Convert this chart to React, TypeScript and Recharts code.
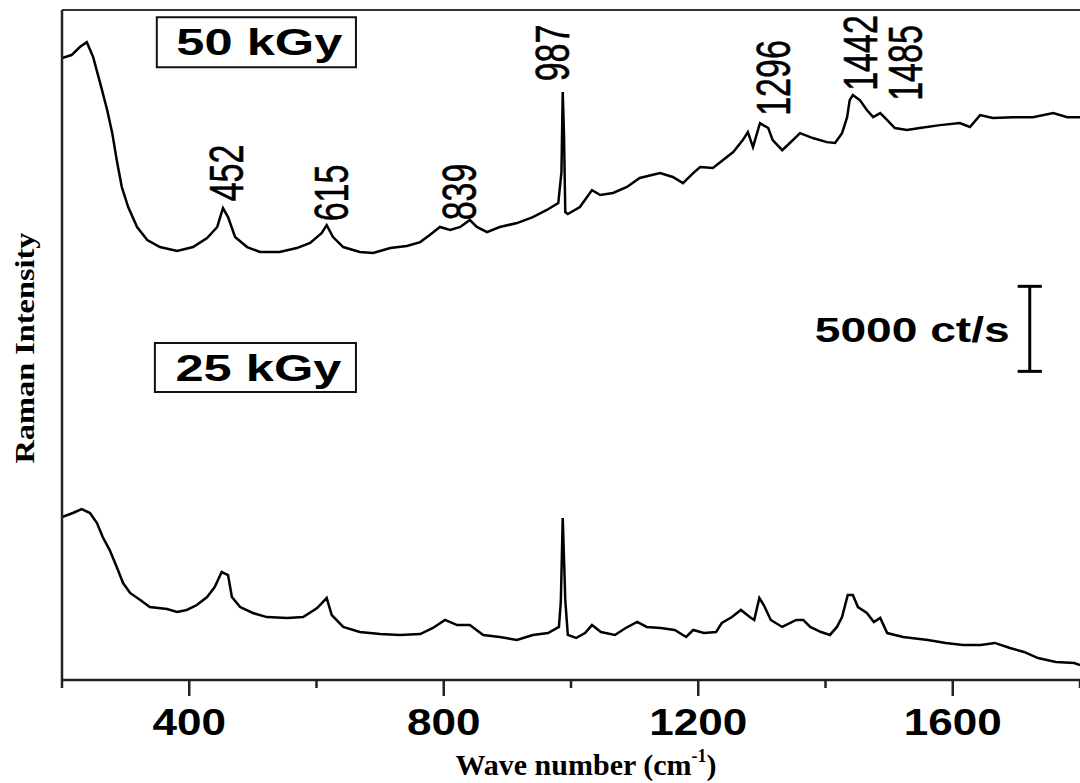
import { LineChart, Line, XAxis, YAxis, ReferenceLine, ReferenceArea } from 'recharts'

// 50 kGy spectrum (wavenumber in cm-1, intensity in ct/s)
const waveTop = [200, 215, 228, 239, 249, 260, 271, 279, 286, 294, 304, 318, 334, 354, 381, 406, 428, 444, 453, 461, 472, 491, 511, 542, 569, 590, 608, 616, 626, 642, 668, 689, 716, 742, 763, 778, 794, 810, 826, 841, 852, 868, 888, 915, 940, 962, 980, 985, 987, 989, 991, 995, 1014, 1033, 1046, 1066, 1088, 1108, 1140, 1160, 1176, 1192, 1203, 1223, 1239, 1255, 1270, 1278, 1286, 1297, 1302, 1310, 1317, 1332, 1344, 1360, 1380, 1402, 1415, 1426, 1434, 1438, 1443, 1454, 1465, 1475, 1486, 1497, 1509, 1528, 1548, 1580, 1611, 1627, 1643, 1663, 1695, 1726, 1758, 1780, 1800]
const intensityTop = [36570, 36750, 37220, 37510, 36630, 35100, 33520, 32160, 30580, 28990, 27810, 26640, 25870, 25460, 25230, 25460, 25990, 26640, 27750, 27220, 26050, 25460, 25170, 25170, 25400, 25700, 26280, 26750, 26050, 25460, 25170, 25110, 25400, 25520, 25750, 26170, 26640, 26460, 26640, 27050, 26640, 26340, 26640, 26870, 27220, 27640, 28050, 29870, 34570, 32050, 27520, 27400, 27810, 28810, 28520, 28640, 28990, 29520, 29810, 29580, 29220, 29810, 30160, 30110, 30580, 31050, 31750, 32220, 31340, 32750, 32630, 32460, 31750, 31160, 31580, 32160, 31870, 31630, 31580, 32160, 33100, 34100, 34400, 34100, 33520, 33100, 33340, 32930, 32460, 32340, 32460, 32630, 32750, 32520, 33220, 33050, 33100, 33100, 33340, 33100, 33100]

// 25 kGy spectrum
const waveBottom = [200, 217, 231, 244, 255, 264, 275, 286, 296, 307, 323, 338, 365, 381, 396, 412, 428, 440, 451, 461, 467, 480, 500, 522, 554, 579, 601, 616, 624, 642, 668, 700, 731, 763, 783, 802, 821, 841, 862, 888, 915, 940, 964, 981, 984, 987, 989, 991, 995, 1008, 1022, 1033, 1047, 1069, 1086, 1104, 1119, 1141, 1163, 1181, 1192, 1209, 1228, 1237, 1253, 1267, 1281, 1288, 1296, 1303, 1314, 1332, 1354, 1365, 1376, 1393, 1407, 1418, 1426, 1435, 1443, 1451, 1465, 1476, 1486, 1497, 1522, 1561, 1589, 1616, 1644, 1666, 1690, 1712, 1734, 1762, 1791, 1800]
const intensityBottom = [9580, 9820, 10050, 9820, 9230, 8410, 7640, 6640, 5700, 5120, 4700, 4290, 4170, 4000, 4120, 4410, 4880, 5470, 6350, 6170, 4880, 4290, 3940, 3700, 3650, 3700, 4230, 4820, 3820, 3120, 2820, 2700, 2650, 2700, 3060, 3530, 3230, 3230, 2650, 2530, 2350, 2650, 2760, 3120, 4590, 9530, 7170, 4700, 2650, 2470, 2760, 3230, 2820, 2650, 3060, 3410, 3120, 3060, 2940, 2530, 2940, 2760, 2820, 3350, 3700, 4120, 3700, 3530, 4820, 4410, 3530, 3120, 3530, 3530, 3120, 2820, 2650, 3120, 3700, 5000, 5000, 4290, 3940, 3410, 3650, 2760, 2530, 2350, 2180, 2060, 2060, 2180, 1880, 1650, 1290, 1060, 1000, 880]

const peakWaves = [452, 615, 839, 987, 1296, 1442, 1485]
const doseLabels = ['50 kGy', '25 kGy']
const scaleBarText = '5000 ct/s'
const xTicks = [200, 400, 600, 800, 1000, 1200, 1400, 1600, 1800]
const xTickLabels = [400, 800, 1200, 1600]

const topData = waveTop.map((w, i) => ({ w, v: intensityTop[i] }))
const bottomData = waveBottom.map((w, i) => ({ w, v: intensityBottom[i] }))

const SANS = "'Liberation Sans', Arial, sans-serif"
const SERIF = "'Liberation Serif', 'Times New Roman', serif"

// where the rotated peak numbers sit: shift from the peak (px) and text centre height (px)
const peakLabelPos = [
  { dx: 4, cy: 173 },
  { dx: 5, cy: 193 },
  { dx: -10, cy: 192 },
  { dx: -11, cy: 53 },
  { dx: 14, cy: 78 },
  { dx: 8, cy: 53 },
  { dx: 25, cy: 63 },
]

// boxes round the dose labels, in data units
const doseBoxes = [
  { x1: 349, x2: 662, y1: 36040, y2: 38980 },
  { x1: 346, x2: 662, y1: 16930, y2: 19820 },
]

function WaveTick({ x, y, payload }: any) {
  const major = xTickLabels.includes(payload.value)
  const label = String(payload.value)
  return (
    <g>
      <line x1={x} x2={x} y1={y} y2={y + (major ? 16 : 8)} stroke="#222" strokeWidth={2.5} />
      {major && (
        <text
          x={x}
          y={y + 55}
          textAnchor="middle"
          fontFamily={SANS}
          fontWeight="bold"
          fontSize={36}
          fill="#000"
          textLength={label.length * 24.5}
          lengthAdjust="spacingAndGlyphs"
        >
          {label}
        </text>
      )}
    </g>
  )
}

const peakLabel = (text: string, dx: number, cy: number) => (props: any) => {
  const bx = props.viewBox.x + dx + 17
  return (
    <text
      transform={`translate(${bx},${cy}) rotate(-90) scale(1,1.4)`}
      textAnchor="middle"
      fontFamily={SANS}
      fontSize={34}
      fill="#000"
      stroke="#000"
      strokeWidth={0.4}
    >
      {text}
    </text>
  )
}

const boxLabel = (text: string) => (props: any) => {
  const { x, y, width, height } = props.viewBox
  return (
    <text
      x={x + width / 2 + 3}
      y={y + height / 2 + 13}
      textAnchor="middle"
      fontFamily={SANS}
      fontWeight="bold"
      fontSize={36}
      fill="#000"
      textLength={166}
      lengthAdjust="spacingAndGlyphs"
    >
      {text}
    </text>
  )
}

const scaleLabel = (props: any) => {
  const { x, y } = props.viewBox
  return (
    <text
      x={x - 20}
      y={y + 56}
      textAnchor="end"
      fontFamily={SANS}
      fontWeight="bold"
      fontSize={35}
      fill="#000"
      textLength={195}
      lengthAdjust="spacingAndGlyphs"
    >
      {scaleBarText}
    </text>
  )
}

const xTitle = (props: any) => {
  const { x, y, width } = props.viewBox
  return (
    <text x={x + width / 2 + 15} y={y + 95} textAnchor="middle" fontFamily={SERIF} fontWeight="bold" fontSize={30} fill="#000">
      <tspan>Wave number (cm</tspan>
      <tspan dy={-13} fontSize={18}>-1</tspan>
      <tspan dy={13}>)</tspan>
    </text>
  )
}

const yTitle = () => (
  <text
    transform="translate(34,348) rotate(-90)"
    textAnchor="middle"
    fontFamily={SERIF}
    fontWeight="bold"
    fontSize={27}
    fill="#000"
    textLength={231}
    lengthAdjust="spacingAndGlyphs"
  >
    Raman Intensity
  </text>
)

export default function App() {
  return (
    <div style={{ position: 'absolute', left: 0, top: 0, width: 1080, height: 783, background: '#fff' }}>
      <LineChart width={1080} height={783} margin={{ top: 10, right: 0, bottom: 0, left: 0 }}>
        <XAxis
          type="number"
          dataKey="w"
          domain={[200, 1800]}
          ticks={xTicks}
          interval={0}
          allowDataOverflow
          height={103}
          tickSize={0}
          tickMargin={0}
          tickLine={false}
          tick={<WaveTick />}
          axisLine={{ stroke: '#222', strokeWidth: 2.5 }}
          label={{ content: xTitle }}
        />
        <YAxis
          type="number"
          domain={[0, 39400]}
          allowDataOverflow
          width={62}
          tick={false}
          tickLine={false}
          axisLine={{ stroke: '#222', strokeWidth: 2.5 }}
          label={{ content: yTitle }}
        />
        <ReferenceLine y={39400} stroke="#333" strokeWidth={2} />

        {doseBoxes.map((b, i) => (
          <ReferenceArea
            key={doseLabels[i]}
            x1={b.x1}
            x2={b.x2}
            y1={b.y1}
            y2={b.y2}
            fill="#fff"
            fillOpacity={1}
            stroke="#111"
            strokeWidth={2}
            label={boxLabel(doseLabels[i])}
          />
        ))}

        {/* 5000 ct/s scale bar */}
        <ReferenceLine segment={[{ x: 1721, y: 18150 }, { x: 1721, y: 23150 }]} stroke="#000" strokeWidth={3} label={scaleLabel} />
        <ReferenceLine segment={[{ x: 1702, y: 23150 }, { x: 1740, y: 23150 }]} stroke="#000" strokeWidth={3} />
        <ReferenceLine segment={[{ x: 1702, y: 18150 }, { x: 1740, y: 18150 }]} stroke="#000" strokeWidth={3} />

        {peakWaves.map((w, i) => (
          <ReferenceLine
            key={w}
            x={w}
            stroke="none"
            label={peakLabel(String(w), peakLabelPos[i].dx, peakLabelPos[i].cy)}
          />
        ))}

        <Line data={topData} dataKey="v" type="linear" stroke="#000" strokeWidth={2.5} dot={false} isAnimationActive={false} />
        <Line data={bottomData} dataKey="v" type="linear" stroke="#000" strokeWidth={2.5} dot={false} isAnimationActive={false} />
      </LineChart>
    </div>
  )
}
